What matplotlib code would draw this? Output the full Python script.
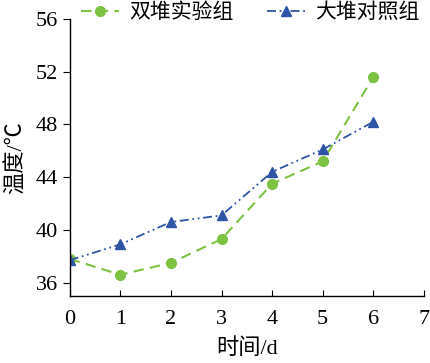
import matplotlib
matplotlib.use('Agg')
import matplotlib.pyplot as plt

days = [0, 1, 2, 3, 4, 5, 6]
double_pile = [37.8, 36.6, 37.5, 39.3, 43.5, 45.2, 51.6]
big_pile = [37.7, 38.9, 40.6, 41.1, 44.4, 46.1, 48.2]
yticks = [36, 40, 44, 48, 52, 56]

fam = ['Liberation Serif', 'Noto Sans CJK SC']
plt.rcParams['font.family'] = fam

fig = plt.figure(figsize=(4.3, 3.63), dpi=100)
ax = fig.add_axes([0.162, 0.185, 0.824, 0.763])

ax.plot(days, double_pile, color='#7dc242', ls=(0, (5, 3)), lw=1.5,
        marker='o', ms=7, label='双堆实验组')
ax.plot(days, big_pile, color='#2e55a5', ls=(0, (5, 2, 1, 2, 1, 2)), lw=1.3,
        marker='^', ms=7.5, label='大堆对照组')

ax.set_xlim(0, 7)
ax.set_ylim(35, 56)
ax.set_xticks(range(0, 8))
ax.set_yticks(yticks)
ax.tick_params(axis='x', direction='in', length=4, labelsize=16, pad=10)
ax.tick_params(axis='y', direction='out', length=5, labelsize=16)
ax.spines['top'].set_visible(False)
ax.spines['right'].set_visible(False)
for s in ['left', 'bottom']:
    ax.spines[s].set_linewidth(1.0)

ax.set_xlabel('时间/d', fontsize=16, labelpad=7)
ax.set_ylabel('温度/℃', fontsize=16, labelpad=6)

ax.legend(loc='lower center', bbox_to_anchor=(0.51, 0.955), ncol=2, frameon=False,
          fontsize=15, handlelength=1.8, columnspacing=1.6, handletextpad=0.5,
          borderaxespad=0)

fig.savefig('out.png', dpi=100)
